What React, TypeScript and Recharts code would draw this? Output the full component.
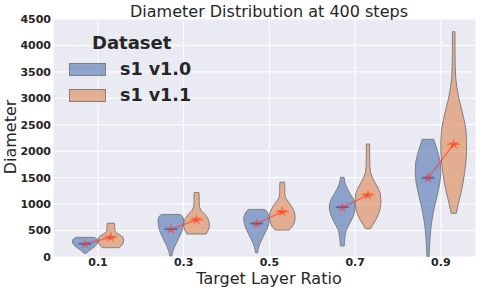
import React from "react";
import { ComposedChart, Scatter, XAxis, YAxis, CartesianGrid, Symbols } from "recharts";

const RATIOS = ["0.1", "0.3", "0.5", "0.7", "0.9"];
const Y_TICKS = [0, 500, 1000, 1500, 2000, 2500, 3000, 3500, 4000, 4500];

// violin outlines: [diameter, relative half-width], bottom to top
const v10_01 = [[70, 0.1], [110, 0.25], [160, 0.55], [210, 0.8], [260, 0.97], [300, 1.0], [340, 0.92], [365, 0.75], [372, 0.65]];
const v10_03 = [[20, 0.08], [100, 0.15], [200, 0.3], [300, 0.5], [400, 0.7], [500, 0.88], [600, 0.97], [700, 1.0], [770, 0.9], [805, 0.75]];
const v10_05 = [[80, 0.08], [150, 0.12], [250, 0.25], [350, 0.45], [450, 0.65], [550, 0.85], [650, 0.97], [750, 1.0], [840, 0.85], [900, 0.65]];
const v10_07 = [[208, 0.15], [300, 0.17], [400, 0.22], [500, 0.3], [600, 0.5], [700, 0.72], [800, 0.9], [900, 1.0], [1000, 1.0], [1100, 0.85], [1200, 0.6], [1300, 0.38], [1400, 0.2], [1505, 0.14]];
const v10_09 = [[5, 0.08], [200, 0.12], [400, 0.17], [600, 0.25], [800, 0.38], [1000, 0.55], [1200, 0.75], [1400, 0.92], [1600, 1.0], [1800, 0.95], [2000, 0.75], [2150, 0.55], [2225, 0.45]];

const v11_01 = [[176, 0.65], [220, 0.85], [270, 0.97], [320, 1.0], [370, 0.95], [410, 0.75], [450, 0.45], [490, 0.32], [540, 0.3], [590, 0.3], [637, 0.28]];
const v11_03 = [[435, 0.75], [500, 0.9], [580, 1.0], [660, 0.98], [740, 0.85], [820, 0.6], [880, 0.35], [950, 0.22], [1050, 0.2], [1150, 0.2], [1220, 0.18]];
const v11_05 = [[510, 0.55], [580, 0.8], [660, 0.95], [750, 1.0], [850, 0.95], [950, 0.75], [1050, 0.45], [1120, 0.25], [1200, 0.2], [1300, 0.2], [1415, 0.18]];
const v11_07 = [[536, 0.2], [600, 0.35], [700, 0.6], [800, 0.8], [900, 0.93], [1000, 1.0], [1100, 1.0], [1200, 0.95], [1300, 0.8], [1400, 0.55], [1500, 0.35], [1600, 0.2], [1700, 0.15], [1900, 0.13], [2137, 0.13]];
const v11_09 = [[826, 0.2], [1000, 0.35], [1200, 0.55], [1400, 0.72], [1600, 0.85], [1800, 0.95], [2000, 1.0], [2200, 1.0], [2400, 0.95], [2600, 0.8], [2800, 0.6], [3000, 0.4], [3200, 0.25], [3400, 0.15], [3600, 0.12], [3900, 0.1], [4260, 0.1]];

const S1V10 = [v10_01, v10_03, v10_05, v10_07, v10_09];
const S1V11 = [v11_01, v11_03, v11_05, v11_07, v11_09];
const MED_V10 = [246, 523, 630, 939, 1494];
const MED_V11 = [372, 705, 854, 1172, 2131];

const OFFSET = 0.15;
const HALF = 0.15;
const BLUE = "#4c72b0";
const ORANGE = "#dd8452";
const TEXT = "#262626";
const FONT = "DejaVu Sans";

function outline(shape: number[][], center: number) {
  const right = shape.map(([y, w]) => ({ x: center + w * HALF, y }));
  const left = shape.slice().reverse().map(([y, w]) => ({ x: center - w * HALF, y }));
  return [...right, ...left, right[0]];
}

const noDot = () => <g />;

const medianMark = (color: string) => (p: any) => (
  <line x1={p.cx - 6.5} x2={p.cx + 6.5} y1={p.cy} y2={p.cy} stroke={color} strokeWidth={1.5} />
);

const starMark = (p: any) => (
  <Symbols cx={p.cx} cy={p.cy} type="star" size={40} fill="#ff2a2a" fillOpacity={0.5} stroke="none" />
);

function violin(key: string, shape: number[][], center: number, color: string) {
  return (
    <Scatter
      key={key}
      data={outline(shape, center)}
      shape={noDot}
      line={{ fill: color, fillOpacity: 0.6, stroke: "#7f7f7f", strokeWidth: 1 }}
      lineType="joint"
      lineJointType="linear"
      isAnimationActive={false}
    />
  );
}

export default function App() {
  const tickStyle = { fontSize: 11, fontWeight: 700, fill: TEXT, fontFamily: FONT };
  return (
    <div style={{ position: "absolute", left: 0, top: 0, width: 489, height: 290 }}>
      <ComposedChart width={489} height={290} margin={{ top: 19, right: 13, bottom: 0, left: 0 }}>
        <CartesianGrid fill="#eaeaf2" stroke="#ffffff" strokeWidth={1} />
        <XAxis
          type="number"
          dataKey="x"
          domain={[-0.525, 4.41]}
          ticks={[0, 1, 2, 3, 4]}
          tickFormatter={(v: number) => RATIOS[v]}
          allowDataOverflow
          axisLine={false}
          tickLine={false}
          tickSize={0}
          tickMargin={1}
          height={33}
          tick={tickStyle}
        />
        <YAxis
          type="number"
          dataKey="y"
          domain={[0, 4500]}
          ticks={Y_TICKS}
          allowDataOverflow
          axisLine={false}
          tickLine={false}
          tickSize={0}
          tickMargin={2}
          width={53}
          tick={tickStyle}
        />
        {S1V10.map((s, i) => violin(`a${i}`, s, i - OFFSET, BLUE))}
        {S1V11.map((s, i) => violin(`b${i}`, s, i + OFFSET, ORANGE))}
        <Scatter
          data={MED_V10.map((m, i) => ({ x: i - OFFSET, y: m }))}
          shape={medianMark("#1f77b4")}
          isAnimationActive={false}
        />
        <Scatter
          data={MED_V11.map((m, i) => ({ x: i + OFFSET, y: m }))}
          shape={medianMark("#ff7f0e")}
          isAnimationActive={false}
        />
        {RATIOS.map((r, i) => (
          <Scatter
            key={`m${r}`}
            data={[{ x: i - OFFSET, y: MED_V10[i] }, { x: i + OFFSET, y: MED_V11[i] }]}
            shape={starMark}
            line={{ stroke: "#ff2a2a", strokeOpacity: 0.5, strokeWidth: 1.5 }}
            lineType="joint"
            isAnimationActive={false}
          />
        ))}
      </ComposedChart>
      <svg
        width={489}
        height={290}
        style={{ position: "absolute", left: 0, top: 0, pointerEvents: "none" }}
        fontFamily={FONT}
        fill={TEXT}
      >
        <text x={269} y={17} fontSize={16} textAnchor="middle">Diameter Distribution at 400 steps</text>
        <text x={269} y={284} fontSize={16} textAnchor="middle">Target Layer Ratio</text>
        <text transform="translate(16,137) rotate(-90)" fontSize={16} textAnchor="middle">Diameter</text>
        <text x={92} y={49} fontSize={18} fontWeight={700}>Dataset</text>
        <rect x={69.5} y={63.5} width={36} height={12} fill={BLUE} fillOpacity={0.6} stroke="#7f7f7f" strokeWidth={1} />
        <rect x={69.5} y={89.5} width={36} height={12} fill={ORANGE} fillOpacity={0.6} stroke="#7f7f7f" strokeWidth={1} />
        <text x={120} y={75} fontSize={17.5} fontWeight={700}>s1 v1.0</text>
        <text x={120} y={101} fontSize={17.5} fontWeight={700}>s1 v1.1</text>
      </svg>
    </div>
  );
}
